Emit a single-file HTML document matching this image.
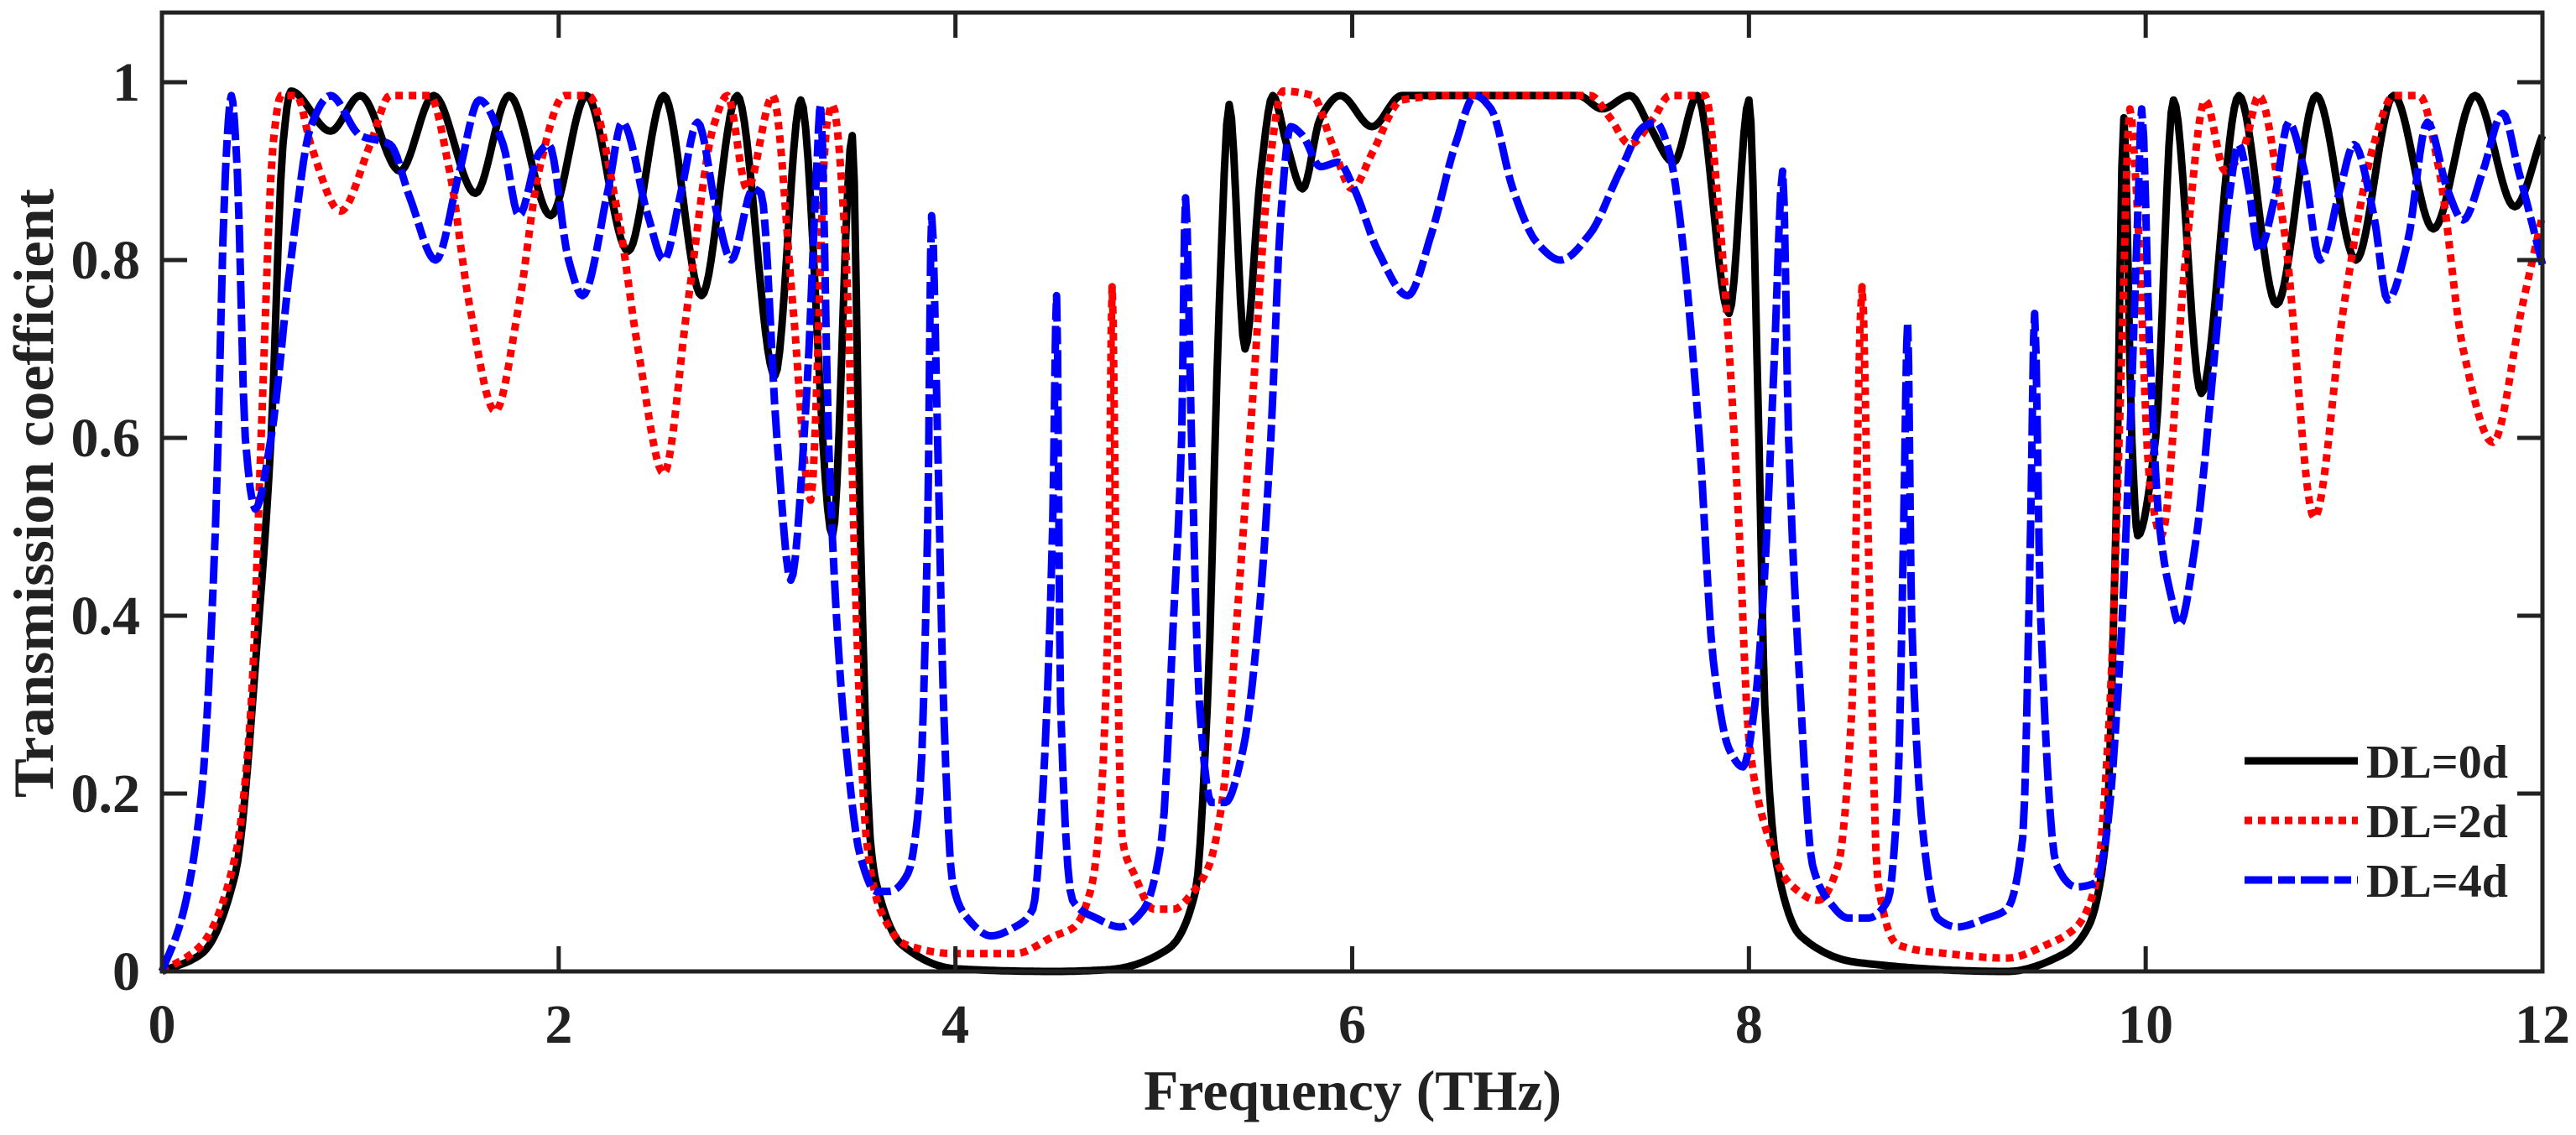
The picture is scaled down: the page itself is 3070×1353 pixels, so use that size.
<!DOCTYPE html>
<html><head><meta charset="utf-8"><style>
html,body{margin:0;padding:0;background:#fff;}
svg{display:block;}
text{font-family:"Liberation Serif",serif;font-weight:bold;fill:#222;}
</style></head><body>
<svg id="chart" width="3070" height="1353" viewBox="0 0 3070 1353" xmlns="http://www.w3.org/2000/svg">
<g id="series"></g>
<g id="axes"></g>
<g id="legend"></g>
</svg>
<script>
const xTicks=[0,2,4,6,8,10,12];
const yTicks=[0,0.2,0.4,0.6,0.8,1];
const yTickLabels=["0","0.2","0.4","0.6","0.8","1"];
const seriesNames=["DL=0d","DL=2d","DL=4d"];
const f0=[0,0.2,0.37,0.49,0.55,0.61,0.65,0.85,1.0,1.2,1.37,1.58,1.75,1.96,2.14,2.35,2.53,2.72,2.9,3.09,3.22,3.38,3.48,3.52,3.57,3.6,3.73,4.0,4.5,4.77,5.07,5.21,5.27,5.33,5.38,5.46,5.54,5.6,5.67,5.75,5.84,5.94,6.1,6.25,6.6,7.14,7.26,7.4,7.5,7.62,7.74,7.9,8.0,8.05,8.08,8.14,8.26,8.55,9.3,9.59,9.71,9.8,9.85,9.89,9.93,9.96,10.05,10.14,10.28,10.47,10.66,10.86,11.06,11.25,11.45,11.66,11.86,12.0];
const v0=[0,0.02,0.11,0.4,0.6,0.93,0.99,0.945,0.985,0.9,0.985,0.875,0.985,0.85,0.985,0.81,0.985,0.76,0.985,0.67,0.98,0.49,0.94,0.5,0.15,0.1,0.03,0.003,0.0,0.002,0.025,0.09,0.3,0.75,0.975,0.70,0.9,0.985,0.93,0.88,0.96,0.985,0.95,0.985,0.985,0.985,0.97,0.985,0.95,0.91,0.985,0.74,0.98,0.6,0.3,0.12,0.04,0.01,0.0,0.02,0.05,0.15,0.5,0.96,0.6,0.49,0.6,0.98,0.65,0.985,0.75,0.985,0.80,0.985,0.835,0.985,0.86,0.94];
const f1=[0,0.2,0.37,0.45,0.5,0.56,0.6,0.68,0.75,0.9,1.05,1.15,1.35,1.45,1.55,1.68,1.8,1.9,2.03,2.15,2.3,2.4,2.53,2.65,2.78,2.85,2.95,3.08,3.18,3.27,3.35,3.38,3.45,3.5,3.55,3.62,3.75,4.0,4.3,4.5,4.6,4.68,4.72,4.77,4.79,4.81,4.84,4.9,5.0,5.1,5.2,5.28,5.35,5.42,5.5,5.58,5.65,5.8,5.9,6.0,6.1,6.25,6.5,7.2,7.3,7.4,7.52,7.6,7.78,7.85,7.9,7.95,8.0,8.1,8.2,8.35,8.45,8.52,8.57,8.6,8.65,8.75,9.0,9.3,9.5,9.65,9.75,9.82,9.88,9.92,9.96,10.02,10.08,10.2,10.3,10.4,10.5,10.57,10.7,10.85,11.0,11.15,11.25,11.38,11.48,11.6,11.75,11.9,12.0];
const v1=[0,0.03,0.13,0.3,0.6,0.93,0.985,0.985,0.93,0.855,0.93,0.985,0.985,0.9,0.75,0.63,0.75,0.9,0.985,0.985,0.85,0.7,0.56,0.75,0.95,0.985,0.88,0.985,0.75,0.53,0.95,0.975,0.8,0.4,0.15,0.07,0.03,0.02,0.02,0.04,0.05,0.09,0.15,0.4,0.77,0.45,0.15,0.11,0.07,0.07,0.09,0.12,0.2,0.4,0.65,0.9,0.99,0.985,0.93,0.88,0.92,0.98,0.985,0.985,0.96,0.93,0.96,0.985,0.985,0.85,0.7,0.5,0.26,0.15,0.1,0.08,0.12,0.3,0.77,0.5,0.1,0.03,0.02,0.015,0.03,0.05,0.1,0.3,0.7,0.97,0.85,0.55,0.49,0.8,0.98,0.9,0.93,0.985,0.83,0.51,0.75,0.93,0.985,0.985,0.9,0.7,0.595,0.75,0.85];
const f2=[0,0.1,0.2,0.27,0.32,0.35,0.38,0.42,0.47,0.55,0.65,0.75,0.85,1.0,1.15,1.25,1.38,1.5,1.6,1.72,1.8,1.9,1.95,2.05,2.12,2.25,2.32,2.45,2.53,2.62,2.7,2.8,2.87,2.98,3.02,3.1,3.17,3.25,3.3,3.32,3.36,3.4,3.45,3.52,3.6,3.67,3.76,3.82,3.86,3.88,3.91,3.94,3.985,4.06,4.18,4.3,4.39,4.44,4.49,4.51,4.53,4.59,4.71,4.83,4.95,5.04,5.1,5.14,5.16,5.19,5.23,5.29,5.36,5.45,5.53,5.59,5.64,5.69,5.75,5.84,5.93,6.01,6.13,6.28,6.4,6.52,6.62,6.7,6.81,6.93,7.05,7.2,7.35,7.47,7.53,7.6,7.65,7.75,7.82,7.9,7.97,8.03,8.08,8.13,8.17,8.2,8.25,8.32,8.4,8.5,8.6,8.7,8.75,8.78,8.8,8.82,8.88,8.95,9.05,9.2,9.3,9.38,9.42,9.44,9.47,9.55,9.65,9.75,9.8,9.87,9.92,9.96,9.98,10.02,10.07,10.13,10.17,10.25,10.35,10.42,10.47,10.52,10.57,10.65,10.72,10.8,10.88,10.98,11.05,11.15,11.22,11.32,11.42,11.52,11.6,11.7,11.8,11.88,12.0];
const v2=[0,0.06,0.2,0.5,0.9,0.985,0.9,0.6,0.52,0.6,0.8,0.95,0.985,0.94,0.93,0.87,0.80,0.9,0.98,0.93,0.85,0.92,0.93,0.8,0.76,0.88,0.955,0.85,0.80,0.88,0.955,0.85,0.80,0.88,0.875,0.6,0.44,0.65,0.9,0.975,0.6,0.4,0.25,0.13,0.09,0.09,0.11,0.2,0.5,0.85,0.6,0.3,0.1,0.06,0.04,0.05,0.07,0.2,0.5,0.76,0.3,0.08,0.06,0.05,0.07,0.15,0.4,0.6,0.87,0.6,0.3,0.19,0.19,0.25,0.4,0.6,0.85,0.95,0.94,0.905,0.91,0.88,0.81,0.76,0.83,0.93,0.985,0.97,0.88,0.82,0.80,0.83,0.9,0.95,0.955,0.92,0.85,0.6,0.35,0.25,0.23,0.3,0.45,0.7,0.9,0.6,0.35,0.12,0.08,0.06,0.06,0.08,0.2,0.5,0.73,0.4,0.15,0.06,0.05,0.06,0.07,0.15,0.5,0.74,0.4,0.12,0.095,0.1,0.15,0.35,0.6,0.85,0.97,0.7,0.5,0.42,0.39,0.48,0.7,0.87,0.93,0.88,0.81,0.87,0.955,0.90,0.80,0.88,0.93,0.85,0.755,0.82,0.955,0.88,0.845,0.9,0.965,0.9,0.795];

const X0=193,X1=3030,Y0=1158,Y1=98,TOP=15;
const xs=f=>X0+(f/12)*(X1-X0);
const ys=v=>Y0-(v)*(Y0-Y1);
const NS="http://www.w3.org/2000/svg";
function mk(tag,attrs,parent){const e=document.createElementNS(NS,tag);for(const k in attrs)e.setAttribute(k,attrs[k]);parent.appendChild(e);return e;}

// monotone cubic interpolation sampling
function monotone(xa,ya){
  const n=xa.length,d=[],m=new Array(n);
  for(let i=0;i<n-1;i++)d.push((ya[i+1]-ya[i])/(xa[i+1]-xa[i]));
  m[0]=d[0];m[n-1]=d[n-2];
  for(let i=1;i<n-1;i++){ if(d[i-1]*d[i]<=0)m[i]=0; else {const h0=xa[i]-xa[i-1],h1=xa[i+1]-xa[i];const w1=2*h1+h0,w2=h1+2*h0;m[i]=(w1+w2)/(w1/d[i-1]+w2/d[i]);} }
  const pts=[];
  for(let i=0;i<n-1;i++){
    const h=xa[i+1]-xa[i],steps=Math.max(4,Math.ceil(h*80));
    for(let s=0;s<steps;s++){const t=s/steps,t2=t*t,t3=t2*t;
      const y=(2*t3-3*t2+1)*ya[i]+(t3-2*t2+t)*h*m[i]+(-2*t3+3*t2)*ya[i+1]+(t3-t2)*h*m[i+1];
      pts.push([xa[i]+t*h,y]);}
  }
  pts.push([xa[n-1],ya[n-1]]);
  return pts;
}
const sg=document.getElementById('series');
const styles=[{c:"#000",d:""},{c:"#ff0000",d:"9 7"},{c:"#0000ff",d:"33 7 20 7"}];
const data=[[f0,v0],[f1,v1],[f2,v2]];
const sNames=['series-dl-0d','series-dl-2d','series-dl-4d'];
data.forEach((s,i)=>{
  const pts=monotone(s[0],s[1]);
  const dstr=pts.map((p,j)=>(j?'L':'M')+xs(p[0]).toFixed(1)+' '+ys(p[1]).toFixed(1)).join('');
  const p=mk('path',{d:dstr,fill:'none',stroke:styles[i].c,'stroke-width':9,'stroke-dasharray':styles[i].d,'stroke-linejoin':'round'},sg);
  
  
});

const ax=document.getElementById('axes');
const frame=mk('rect',{x:X0,y:TOP,width:X1-X0,height:Y0-TOP,fill:'none',stroke:'#222','stroke-width':5},ax);


xTicks.forEach(t=>{
  const x=xs(t);
  const tk=mk('path',{d:`M${x} ${Y0}V${Y0-30}M${x} ${TOP}V${TOP+30}`,stroke:'#222','stroke-width':5},ax);
  
  
  const tx=mk('text',{x:x,y:1243,'font-size':66,'text-anchor':'middle'},ax);
  tx.textContent=String(t);
  
  
});
yTicks.forEach((t,i)=>{
  const y=ys(t);
  const tk=mk('path',{d:`M${X0} ${y}H${X0+30}M${X1} ${y}H${X1-30}`,stroke:'#222','stroke-width':5},ax);
  
  
  const tx=mk('text',{x:167,y:y+22,'font-size':66,'text-anchor':'end'},ax);
  tx.textContent=yTickLabels[i];
  
  
});
const xt=mk('text',{x:1612,y:1323,'font-size':68,'text-anchor':'middle',textLength:498,lengthAdjust:'spacingAndGlyphs'},ax);
xt.textContent='Frequency (THz)';


const yt=mk('text',{x:0,y:0,'font-size':68,'text-anchor':'middle',textLength:726,lengthAdjust:'spacingAndGlyphs',transform:'translate(63,588) rotate(-90)'},ax);
yt.textContent='Transmission coefficient';



const lg=document.getElementById('legend');
const ly=[907,978,1049];
seriesNames.forEach((n,i)=>{
  const ln=mk('line',{x1:2675,x2:2810,y1:ly[i],y2:ly[i],stroke:styles[i].c,'stroke-width':9,'stroke-dasharray':styles[i].d},lg);
  
  
  const tx=mk('text',{x:2820,y:ly[i]+20,'font-size':56},lg);
  tx.setAttribute('fill','#000');
  tx.textContent=n;
  
  
});
</script>
</body></html>
